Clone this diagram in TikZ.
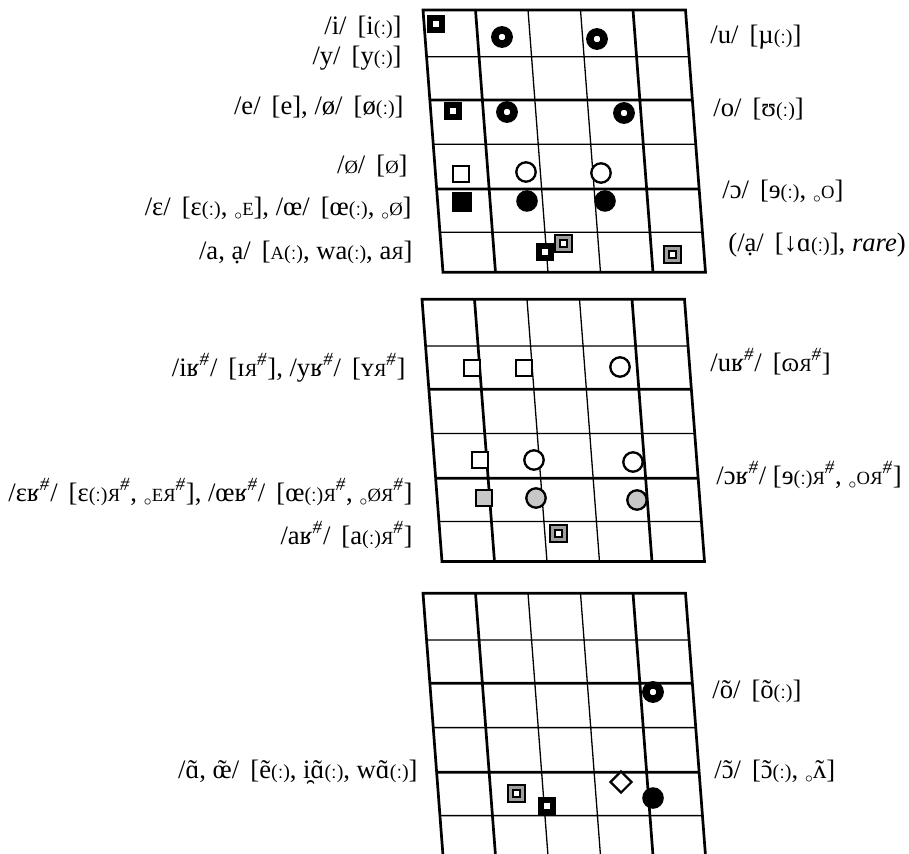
\documentclass[tikz,border=0pt]{standalone}
\usepackage{fontspec}
\setmainfont{Liberation Serif}
\usetikzlibrary{shapes.geometric}
\newcommand{\lng}{{\fontsize{10}{11}\selectfont(ː)}}
\newcommand{\smc}[1]{{\fontsize{9.3}{10}\selectfont #1}}
\newcommand{\rR}{\reflectbox{\smc{R}}}
\newcommand{\wb}{\textsuperscript{\itshape\#}}
\newcommand{\rng}{\raisebox{-0.4ex}{$\scriptscriptstyle\circ$}}
\newcommand{\nas}[1]{\ooalign{#1\cr\hidewidth˜\hidewidth\cr}}
\newcommand{\chartgrid}{%
    \draw[thinline] (105,0) -- (105,262.3) (157.5,0) -- (157.5,262.3)
        (0,46.7) -- (262.5,46.7) (0,134.3) -- (262.5,134.3) (0,222.3) -- (262.5,222.3);
    \draw[thickline] (52.5,0) -- (52.5,262.3) (210,0) -- (210,262.3)
        (0,90) -- (262.5,90) (0,179) -- (262.5,179);
    \draw[thickline] (0,0) -- (262.5,0) -- (262.5,262.3) -- (0,262.3) -- cycle;
}

\begin{document}
\begin{tikzpicture}[
    x=0.5pt, y=-0.5pt,
    thickline/.style={line width=1.35pt, line join=miter},
    thinline/.style={line width=0.65pt},
    lbl/.style={
        font=\fontsize{13.3}{15}\selectfont,
        inner sep=0pt,
        text height=9.4pt,
        text depth=3.3pt
    },
    sqbull/.style={draw, fill=white, line width=3pt, minimum size=6.35pt, inner sep=0pt},
    circbull/.style={circle, draw, fill=white, line width=3.75pt, minimum size=7.1pt, inner sep=0pt},
    opensq/.style={draw, fill=white, line width=1.15pt, minimum size=8pt, inner sep=0pt},
    opencirc/.style={circle, draw, fill=white, line width=1.15pt, minimum size=9.7pt, inner sep=0pt},
    greysq/.style={opensq, fill=black!22},
    greycirc/.style={opencirc, fill=black!22},
    fillsq/.style={fill=black, minimum size=10pt, inner sep=0pt},
    fillcirc/.style={circle, fill=black, minimum size=10.8pt, inner sep=0pt},
    dblsq/.style={draw, fill=white, line width=1pt, double=black!38, double distance=1.5pt, minimum size=6pt, inner sep=0pt},
    openkite/.style={diamond, aspect=1, draw, fill=white, line width=1.1pt, minimum size=11pt, inner sep=0pt}
]
\useasboundingbox (0,0) rectangle (909,854);

% the three charts
\begin{scope}[shift={(423,10)}, xslant=-0.0762]
\chartgrid
\end{scope}
\begin{scope}[shift={(422,299.3)}, xslant=-0.0762]
\chartgrid
\end{scope}
\begin{scope}[shift={(423,593.3)}, xslant=-0.0762]
\chartgrid
\end{scope}

% oral vowels
\node[sqbull] (si) at (436,24) {};
\node[circbull] (su1) at (502,37) {};
\node[circbull] (su2) at (597,39) {};
\node[sqbull] (se) at (453,111) {};
\node[circbull] (so1) at (507,112) {};
\node[circbull] (so2) at (624,113) {};
\node[opensq] (sschwa) at (461,174) {};
\node[opencirc] (sschwa1) at (526,172) {};
\node[opencirc] (sschwa2) at (601,173) {};
\node[fillsq] (seps) at (462,202) {};
\node[fillcirc] (soe1) at (527,201) {};
\node[fillcirc] (soe2) at (605,201) {};
\node[sqbull] (sa) at (545,252) {};
\node[dblsq] (sa2) at (563,244) {};
\node[dblsq] (srare) at (672,255) {};

\node[lbl, anchor=east] (li) at (402,28) {/i/ \,[i\lng]};
\node[lbl, anchor=east] (ly) at (402,58) {/y/ \,[y\lng]};
\node[lbl, anchor=east] (le) at (404,108) {/e/ \,[e], /ø/ \,[ø\lng]};
\node[lbl, anchor=east] (lschwa) at (408,167) {/\smc{Ø}/ \,[\smc{Ø}]};
\node[lbl, anchor=east] (leps) at (412,209) {/ɛ/ \,[ɛ\lng, \rng\smc{E}], /œ/ \,[œ\lng, \rng\smc{Ø}]};
\node[lbl, anchor=east] (la) at (413,253) {/a, ạ/ \,[\smc{A}\lng, wa\lng, a\rR]};
\node[lbl, anchor=west] (ru) at (710,37) {/u/ \,[µ\lng]};
\node[lbl, anchor=west] (ro) at (713,110) {/o/ \,[ʊ\lng]};
\node[lbl, anchor=west] (roo) at (722,192) {/ɔ/ \,[ɘ\lng, \rng\smc{O}]};
\node[lbl, anchor=west] (rrare) at (728,245) {(/ạ/ \,[↓ɑ\lng], \textit{rare})};

% vowels before final r
\node[opensq] (sir) at (472,368) {};
\node[opensq] (syr) at (524,368) {};
\node[opencirc] (sur) at (620,367) {};
\node[opensq] (sepsr1) at (480,460) {};
\node[opencirc] (sepsr2) at (534,460) {};
\node[opencirc] (sor1) at (633,462) {};
\node[greysq] (soer1) at (484,498) {};
\node[greycirc] (soer2) at (536,498) {};
\node[greycirc] (sor2) at (637,500) {};
\node[dblsq] (sar) at (558,534) {};

\node[lbl, anchor=east] (lir) at (406,370) {/iʁ\wb/ \,[ɪ\rR\wb], /yʁ\wb/ \,[ʏ\rR\wb]};
\node[lbl, anchor=east] (lepsr) at (413,495) {/ɛʁ\wb/ \,[ɛ\lng\rR\wb, \rng\smc{E}\rR\wb], /œʁ\wb/ \,[œ\lng\rR\wb, \rng\smc{Ø}\rR\wb]};
\node[lbl, anchor=east] (lar) at (413,538) {/aʁ\wb/ \,[a\lng\rR\wb]};
\node[lbl, anchor=west] (rur) at (710,365) {/uʁ\wb/ \,[ɷ\rR\wb]};
\node[lbl, anchor=west] (ror) at (716,478) {/ɔʁ\wb/ [ɘ\lng\rR\wb, \rng\smc{O}\rR\wb]};

% nasal vowels
\node[circbull] (sont) at (653,692) {};
\node[dblsq] (sant1) at (516,793) {};
\node[sqbull] (sant2) at (547,806) {};
\node[openkite] (soent) at (621,782) {};
\node[fillcirc] (sont2) at (653,798) {};

\node[lbl, anchor=west] (ront) at (712,692) {/õ/ \,[õ\lng]};
\node[lbl, anchor=west] (ront2) at (714,772) {/\nas{ɔ}/ \,[\nas{ɔ}\lng, \rng\nas{ʌ}]};
\node[lbl, anchor=east] (lant) at (418,772) {/\nas{ɑ}, \nas{œ}/ \,[ẽ\lng, i̯\nas{ɑ}\lng, w\nas{ɑ}\lng]};
\end{tikzpicture}
\end{document}
